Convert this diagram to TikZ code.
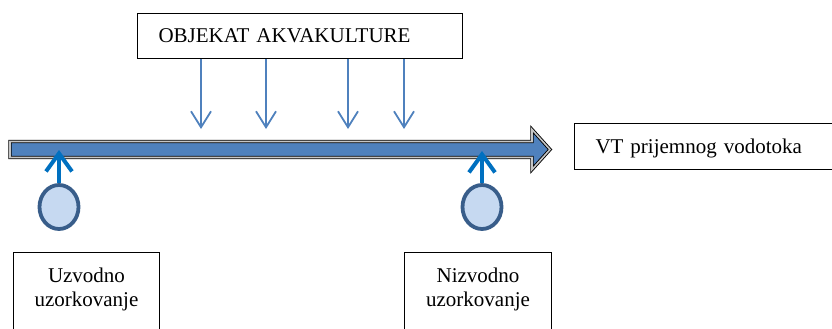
\documentclass[tikz,border=0pt]{standalone}
\usepackage{fontspec}
\setmainfont{Liberation Serif}
\usetikzlibrary{arrows.meta,shapes.geometric}
\definecolor{riverblue}{HTML}{4F81BD}
\definecolor{sampblue}{HTML}{0070C0}
\definecolor{circfill}{HTML}{C6D9F1}
\definecolor{circline}{HTML}{385D8A}
\begin{document}
\begin{tikzpicture}[x=1pt,y=-1pt,
  txt/.style={font=\fontsize{21}{23.5}\selectfont},
  box/.style={draw=black, line width=1pt, txt, inner ysep=0pt, anchor=north west},
  river/.style={fill=riverblue, draw=black, line width=0.9pt, double=gray!45, double distance=1.6pt},
  sampler/.style={ellipse, draw=circline, fill=circfill, line width=3.8pt, minimum width=39pt, minimum height=44pt, inner sep=0pt},
  samp/.style={draw=sampblue, line width=4pt, -{Straight Barb[length=18pt,width=26pt]}},
  flow/.style={draw=riverblue, line width=1.8pt, -{Straight Barb[length=16pt,width=20pt]}}]
\useasboundingbox (0,0) rectangle (832,329);
\clip (0,0) rectangle (832,329);
% boxes
\node[box, text width=283pt, inner xsep=21pt, align=left, text height=29pt, text depth=16pt] (obj) at (137,13) {OBJEKAT AKVAKULTURE};
\node[box, text width=224pt, inner xsep=21pt, align=left, text height=30pt, text depth=16pt] (vt) at (574,123) {VT prijemnog vodotoka};
\node[box, text width=130pt, inner xsep=8pt, align=center, inner ysep=8pt, text height=22pt, text depth=70pt] (uz) at (13,252) {Uzvodno\\uzorkovanje};
\node[box, text width=131pt, inner xsep=8pt, align=center, inner ysep=8pt, text height=22pt, text depth=70pt] (niz) at (404,252) {Nizvodno\\uzorkovanje};
% river
\draw[river] (10,141.5) -- (532,141.5) -- (532,129.5) -- (550,149.5) -- (532,169.5) -- (532,157.5) -- (10,157.5) -- cycle;
\coordinate (rup) at (59,150);
\coordinate (rdown) at (482,151);
% discharges
\draw[flow] ([xshift=64pt]obj.south west) -- ++(0,70);
\draw[flow] ([xshift=129pt]obj.south west) -- ++(0,70);
\draw[flow] ([xshift=211pt]obj.south west) -- ++(0,70);
\draw[flow] ([xshift=267pt]obj.south west) -- ++(0,70);
% sampling points
\node[sampler] (s1) at (59,207) {};
\node[sampler] (s2) at (482,207) {};
\draw[samp] (s1.north) -- (rup);
\draw[samp] (s2.north) -- (rdown);
\end{tikzpicture}
\end{document}
